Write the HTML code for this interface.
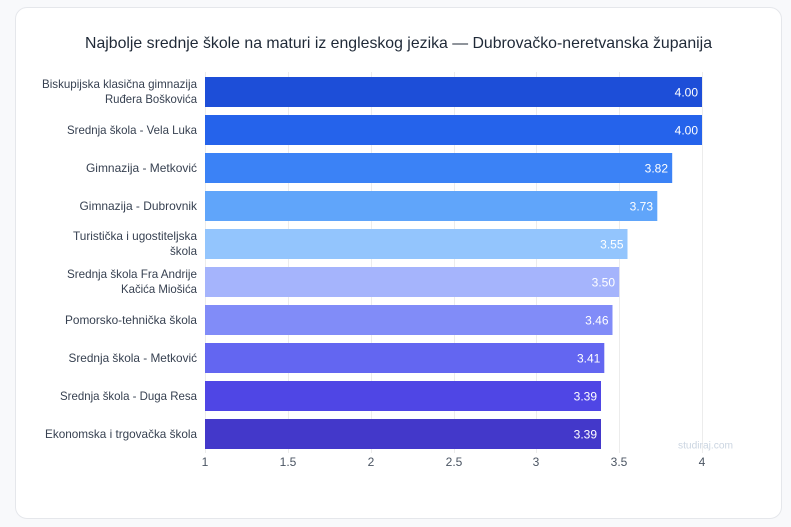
<!DOCTYPE html>
<html><head><meta charset="utf-8"><style>
html,body{margin:0;padding:0;background:#f8f9fb;}
body{width:791px;height:527px;overflow:hidden;position:relative;font-family:"Liberation Sans",sans-serif;}
.card{position:absolute;left:15px;top:7px;width:767px;height:512px;background:#fff;border:1px solid #e5e7eb;border-radius:12px;box-sizing:border-box;}
svg{position:absolute;left:0;top:0;}
</style></head><body>
<div class="card"></div>
<svg width="791" height="527" viewBox="0 0 791 527" font-family="Liberation Sans, sans-serif">
<text x="85" y="48" font-size="16" fill="#1f2937" textLength="627" lengthAdjust="spacingAndGlyphs">Najbolje srednje škole na maturi iz engleskog jezika — Dubrovačko-neretvanska županija</text>
<g stroke="#ececec" stroke-width="1">
<line x1="205.5" y1="72" x2="205.5" y2="453"/>
<line x1="288.5" y1="72" x2="288.5" y2="453"/>
<line x1="371.5" y1="72" x2="371.5" y2="453"/>
<line x1="454.5" y1="72" x2="454.5" y2="453"/>
<line x1="536.5" y1="72" x2="536.5" y2="453"/>
<line x1="619.5" y1="72" x2="619.5" y2="453"/>
<line x1="702.5" y1="72" x2="702.5" y2="453"/>
</g>
<g>
<rect x="205" y="77" width="497" height="30" fill="#1d4ed8"/>
<rect x="205" y="115" width="497" height="30" fill="#2563eb"/>
<rect x="205" y="153" width="467.2" height="30" fill="#3b82f6"/>
<rect x="205" y="191" width="452.3" height="30" fill="#60a5fa"/>
<rect x="205" y="229" width="422.5" height="30" fill="#93c5fd"/>
<rect x="205" y="267" width="414.2" height="30" fill="#a5b4fc"/>
<rect x="205" y="305" width="407.5" height="30" fill="#818cf8"/>
<rect x="205" y="343" width="399.3" height="30" fill="#6366f1"/>
<rect x="205" y="381" width="396" height="30" fill="#4f46e5"/>
<rect x="205" y="419" width="396" height="30" fill="#4338ca"/>
</g>
<g font-size="12" fill="#ffffff" text-anchor="end">
<text x="698" y="96.5">4.00</text>
<text x="698" y="134.5">4.00</text>
<text x="668" y="172.5">3.82</text>
<text x="653" y="210.5">3.73</text>
<text x="623.5" y="248.5">3.55</text>
<text x="615" y="286.5">3.50</text>
<text x="608.5" y="324.5">3.46</text>
<text x="600.3" y="362.5">3.41</text>
<text x="597" y="400.5">3.39</text>
<text x="597" y="438.5">3.39</text>
</g>
<g font-size="12" fill="#374151">
<text x="42" y="88" textLength="155" lengthAdjust="spacingAndGlyphs">Biskupijska klasična gimnazija</text>
<text x="105" y="103" textLength="92" lengthAdjust="spacingAndGlyphs">Ruđera Boškovića</text>
<text x="67" y="134" textLength="130" lengthAdjust="spacingAndGlyphs">Srednja škola - Vela Luka</text>
<text x="86" y="172" textLength="111" lengthAdjust="spacingAndGlyphs">Gimnazija - Metković</text>
<text x="79.5" y="210" textLength="117.5" lengthAdjust="spacingAndGlyphs">Gimnazija - Dubrovnik</text>
<text x="73" y="240" textLength="124" lengthAdjust="spacingAndGlyphs">Turistička i ugostiteljska</text>
<text x="170" y="255" textLength="27" lengthAdjust="spacingAndGlyphs">škola</text>
<text x="67" y="278" textLength="130" lengthAdjust="spacingAndGlyphs">Srednja škola Fra Andrije</text>
<text x="121" y="293" textLength="76" lengthAdjust="spacingAndGlyphs">Kačića Miošića</text>
<text x="65" y="324" textLength="132" lengthAdjust="spacingAndGlyphs">Pomorsko-tehnička škola</text>
<text x="68.5" y="362" textLength="128.5" lengthAdjust="spacingAndGlyphs">Srednja škola - Metković</text>
<text x="60" y="400" textLength="137" lengthAdjust="spacingAndGlyphs">Srednja škola - Duga Resa</text>
<text x="45" y="438" textLength="152" lengthAdjust="spacingAndGlyphs">Ekonomska i trgovačka škola</text>
</g>
<g font-size="12" fill="#4b5563" text-anchor="middle">
<text x="205" y="466">1</text>
<text x="288" y="466">1.5</text>
<text x="371" y="466">2</text>
<text x="454" y="466">2.5</text>
<text x="536" y="466">3</text>
<text x="619" y="466">3.5</text>
<text x="702" y="466">4</text>
</g>
<text x="678" y="448.5" font-size="10" fill="#cbd5e1" textLength="55" lengthAdjust="spacingAndGlyphs">studiraj.com</text>
</svg>
</body></html>
